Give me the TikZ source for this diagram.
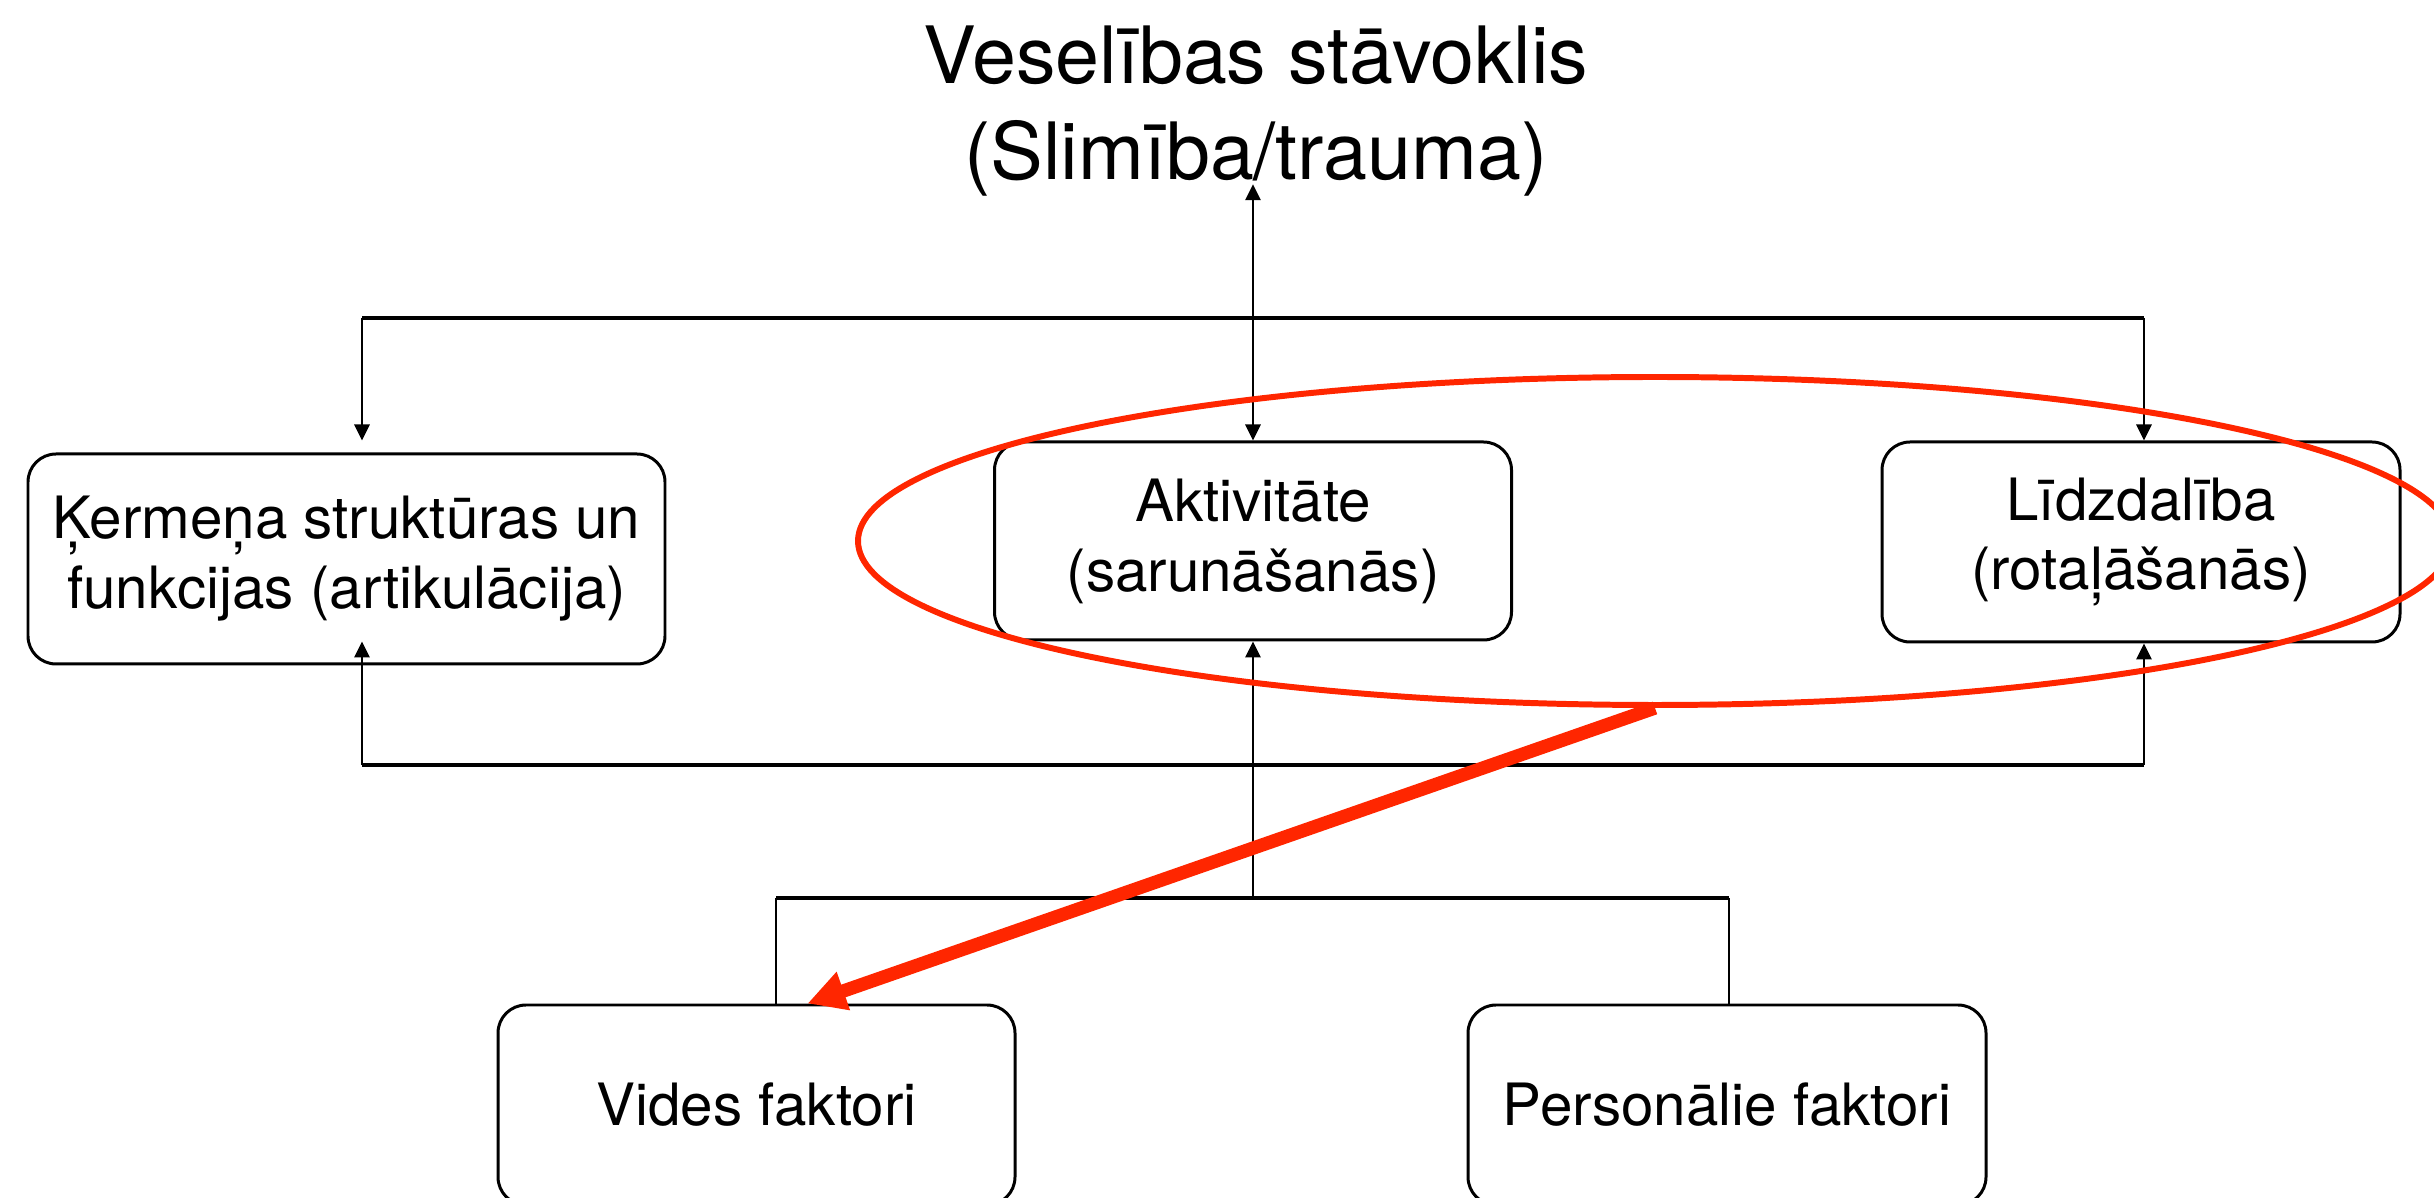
\documentclass[tikz,border=0pt]{standalone}
\usepackage{fontspec}
\setmainfont{TeX Gyre Heros}
\usetikzlibrary{
  calc,positioning,shapes.geometric,
  arrows,arrows.meta
}
\definecolor{keyred}{RGB}{255,38,0}

\begin{document}
\begin{tikzpicture}[x=0.1mm,y=-0.1mm,
  >={Triangle[length=1.6mm,width=1.5mm]},
  box/.style={draw,rounded corners=2.8mm,line width=0.85pt,align=center,inner sep=0pt,
    font=\fontsize{16.6}{19.9}\selectfont},
  conn/.style={line width=0.8pt},
  bus/.style={line width=1.05pt},
  hilite/.style={draw=keyred,line width=1.7pt,ellipse,inner sep=0pt}
]
\useasboundingbox (0,0) rectangle (2434,1198);
\clip (0,0) rectangle (2434,1198);

\node[align=center,inner sep=0pt,font=\fontsize{22.5}{27.5}\selectfont] (health) at (1256,111) {Veselības stāvoklis\\(Slimība/trauma)};

\node[box,minimum width=63.7mm,minimum height=21mm] (body) at (346.5,559) {Ķermeņa struktūras un\\ funkcijas (artikulācija)};
\node[box,minimum width=51.7mm,minimum height=19.8mm] (activ) at (1253,541) {Aktivitāte\\(sarunāšanās)};
\node[box,minimum width=51.8mm,minimum height=20mm] (partic) at (2141,542) {Līdzdalība\\(rotaļāšanās)};
\node[box,minimum width=51.7mm,minimum height=20mm] (envir) at (756.5,1105) {Vides faktori};
\node[box,minimum width=51.8mm,minimum height=20mm] (pers) at (1727,1105) {Personālie faktori};

\coordinate (tl) at (362,318);
\coordinate (tr) at (2144,318);
\coordinate (bl) at (362,765);
\coordinate (br) at (2144,765);
\coordinate (fl) at (776,898);
\coordinate (fr) at (1729,898);

\draw[bus] (tl) -- (tr);
\draw[bus] (bl) -- (br);
\draw[bus] (fl) -- (fr);
\draw[conn,->] (tl) -- (tl |- activ.north);
\draw[conn,->] (tr) -- (partic.north -| tr);
\draw[conn,->] (bl) -- (bl |- activ.south);
\draw[conn,->] (br) -- (partic.south -| br);
\draw[conn,->] (fl -| activ.south) -- (activ.south);
\draw[conn,<->] (activ.north) -- ($(activ.north |- health.south)+(0,-13)$);
\draw[conn] (fl) -- (fl |- envir.north);
\draw[conn] (fr) -- (fr |- pers.north);

\node[hilite,minimum width=159.4mm,minimum height=32.8mm] (group) at (1655,541) {};
\draw[keyred,line width=3.8pt,-{Triangle[length=3.8mm,width=3.8mm]}] (group.south) -- ([xshift=5.1mm]envir.north);
\end{tikzpicture}
\end{document}
